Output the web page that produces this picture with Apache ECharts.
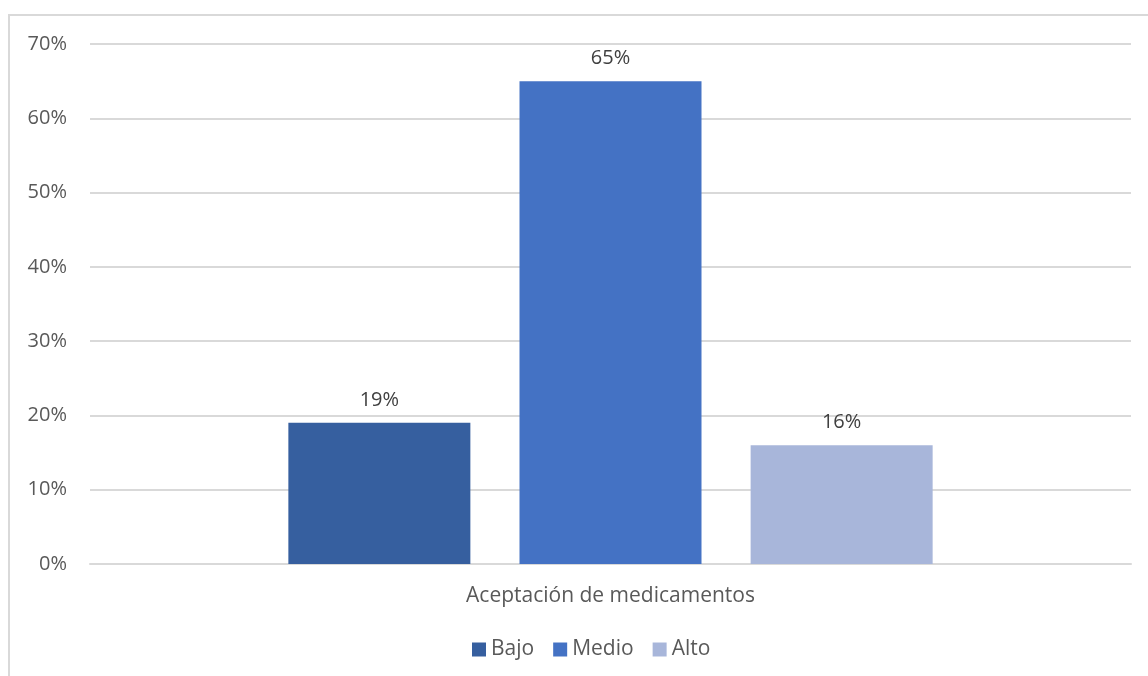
<!DOCTYPE html>
<html>
<head>
<meta charset="utf-8">
<script src="https://cdn.jsdelivr.net/npm/echarts@6/dist/echarts.min.js"></script>
<style>
  html, body { margin: 0; padding: 0; background: #fff; }
  #frame {
    position: absolute; left: 8px; top: 14px; width: 1160px; height: 700px;
    border: 2px solid #d9d9d9; box-sizing: border-box;
  }
  #chart { position: absolute; left: 0; top: 0; width: 1148px; height: 676px; }
</style>
</head>
<body>
<div id="frame"></div>
<div id="chart"></div>
<script>
const category = ["Aceptación de medicamentos"];
const seriesNames = ["Bajo", "Medio", "Alto"];
const seriesValues = [[19], [65], [16]];
const seriesColors = ["#365f9f", "#4472c4", "#a8b6da"];

const font = "'Open Sans', 'Noto Sans', sans-serif";

let myChart = echarts.init(document.getElementById("chart"));

let series = [];
for (let i = 0; i < seriesNames.length; i++) {
    series.push({
        name: seriesNames[i],
        type: "bar",
        data: seriesValues[i],
        barWidth: 182,
        barGap: "27%",
        itemStyle: { color: seriesColors[i] },
        label: {
            show: true,
            position: "top",
            distance: 13,
            formatter: "{c}%",
            color: "#404040",
            fontSize: 20,
            fontFamily: font
        }
    });
}

let option = {
    animation: false,
    grid: { left: 90, right: 17, top: 44, bottom: 112 },
    legend: {
        bottom: 11,
        left: 467,
        itemWidth: 14,
        itemHeight: 14,
        itemGap: 19,
        icon: "rect",
        textStyle: { color: "#595959", fontSize: 21, fontFamily: font },
        data: seriesNames
    },
    xAxis: {
        type: "category",
        data: category,
        axisLine: { lineStyle: { color: "#d9d9d9", width: 2 } },
        axisTick: { show: false },
        axisLabel: { color: "#595959", fontSize: 21, fontFamily: font, margin: 22 }
    },
    yAxis: {
        type: "value",
        min: 0,
        max: 70,
        interval: 10,
        axisLine: { show: false },
        axisTick: { show: false },
        splitLine: { lineStyle: { color: "#d9d9d9", width: 2 } },
        axisLabel: { formatter: "{value}%", color: "#595959", fontSize: 20, fontFamily: font, margin: 23 }
    },
    series: series
};
myChart.setOption(option);
</script>
</body>
</html>
